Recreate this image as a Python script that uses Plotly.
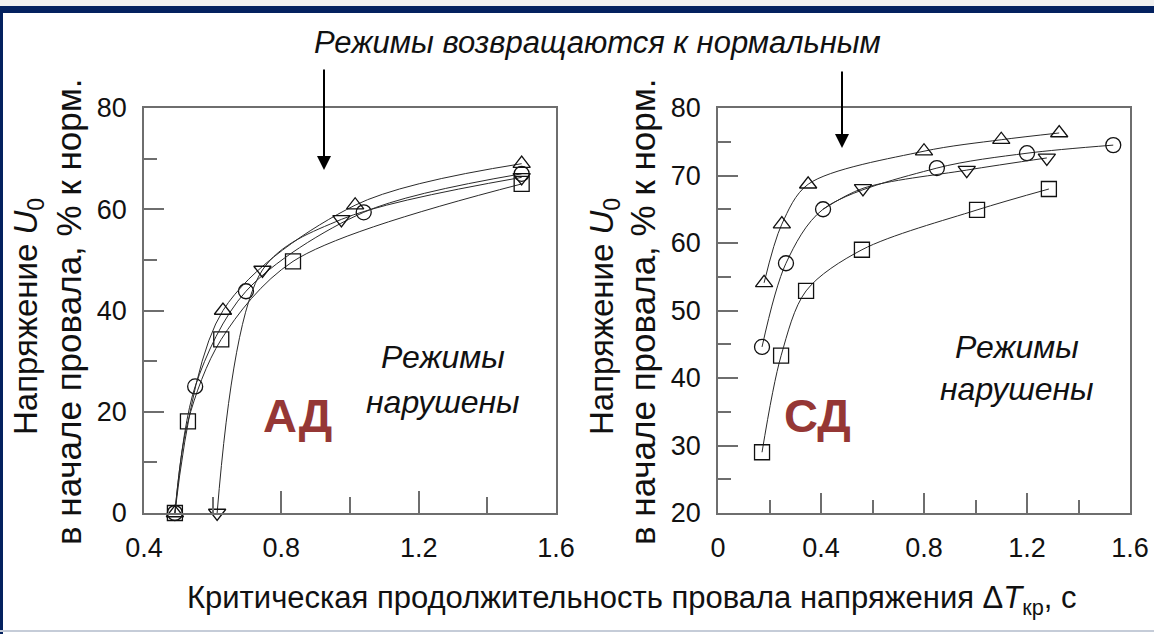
import plotly.graph_objects as go

# ---------------- data ----------------
# Left panel: АД
ad_sq_x = [0.49, 0.528, 0.625, 0.834, 1.50]
ad_sq_y = [0, 18.1, 34.3, 49.7, 65.0]
ad_ci_x = [0.49, 0.549, 0.697, 1.04, 1.50]
ad_ci_y = [0, 25.0, 43.8, 59.4, 67.0]
ad_tu_x = [0.49, 0.63, 1.015, 1.50]
ad_tu_y = [0, 40.0, 60.8, 69.0]
ad_td_x = [0.613, 0.745, 0.975, 1.50]
ad_td_y = [0, 48.0, 58.0, 66.3]

# Right panel: СД
sd_tu_x = [0.179, 0.248, 0.35, 0.80, 1.10, 1.325]
sd_tu_y = [54.1, 62.8, 68.7, 73.6, 75.3, 76.3]
sd_ci_x = [0.171, 0.264, 0.408, 0.85, 1.20, 1.535]
sd_ci_y = [44.6, 57.0, 65.0, 71.1, 73.3, 74.5]
sd_td_x = [0.408, 0.563, 0.966, 1.277]
sd_td_y = [65.0, 68.1, 70.8, 72.6]
sd_sq_x = [0.171, 0.245, 0.342, 0.559, 1.006, 1.285]
sd_sq_y = [29.0, 43.3, 52.9, 59.0, 64.9, 68.0]

ad_xticks = [0.4, 0.8, 1.2, 1.6]
ad_yticks = [0, 20, 40, 60, 80]
sd_xticks = [0, 0.4, 0.8, 1.2, 1.6]
sd_yticks = [20, 30, 40, 50, 60, 70, 80]

W, H = 1154, 634
FONT = "Liberation Sans, Arial, sans-serif"
LINE_C = "#2a2a2a"
FRAME_C = "#6e6e6e"

fig = go.Figure()

def add_series(x, y, symbol, xa, ya, marker_mask=None):
    fig.add_trace(go.Scatter(
        x=x, y=y, mode="lines", xaxis=xa, yaxis=ya,
        line=dict(color=LINE_C, width=1, shape="spline", smoothing=0.9),
        hoverinfo="skip", showlegend=False))
    mx = x if marker_mask is None else [v for v, m in zip(x, marker_mask) if m]
    my = y if marker_mask is None else [v for v, m in zip(y, marker_mask) if m]
    fig.add_trace(go.Scatter(
        x=mx, y=my, mode="markers", xaxis=xa, yaxis=ya, cliponaxis=False,
        marker=dict(symbol=symbol, size=15, color="#111",
                    line=dict(color="#111", width=1.3)),
        showlegend=False))

add_series(ad_sq_x, ad_sq_y, "square-open", "x", "y")
add_series(ad_ci_x, ad_ci_y, "circle-open", "x", "y")
add_series(ad_tu_x, ad_tu_y, "triangle-up-open", "x", "y")
add_series(ad_td_x, ad_td_y, "triangle-down-open", "x", "y")

add_series(sd_tu_x, sd_tu_y, "triangle-up-open", "x2", "y2")
add_series(sd_ci_x, sd_ci_y, "circle-open", "x2", "y2")
add_series(sd_td_x, sd_td_y, "triangle-down-open", "x2", "y2",
           marker_mask=[False, True, True, True])
add_series(sd_sq_x, sd_sq_y, "square-open", "x2", "y2")

def px_x(p):
    return p / W

def px_y(p):
    return 1 - p / H

axis_common = dict(showline=True, linecolor=FRAME_C, linewidth=1.5, mirror=True,
                   showgrid=False, zeroline=False, ticks="inside", automargin=False,
                   tickcolor=FRAME_C, tickwidth=1.5,
                   tickfont=dict(family=FONT, size=27, color="#111"))

fig.update_layout(
    width=W, height=H, margin=dict(l=0, r=0, t=0, b=0, pad=0),
    paper_bgcolor="white", plot_bgcolor="white",
    xaxis=dict(domain=[px_x(144), px_x(556)], range=[0.4, 1.6], tickvals=ad_xticks,
               ticktext=[f"{v:g}" for v in ad_xticks], ticklen=22, ticklabelstandoff=10,
               minor=dict(dtick=0.2, ticklen=16, ticks="inside", tickcolor=FRAME_C, tickwidth=1.5),
               anchor="y", **axis_common),
    yaxis=dict(domain=[px_y(513), px_y(108)], range=[0, 80], tickvals=ad_yticks,
               ticklen=20, ticklabelstandoff=10,
               minor=dict(dtick=10, ticklen=13, ticks="inside", tickcolor=FRAME_C, tickwidth=1.5),
               anchor="x", **axis_common),
    xaxis2=dict(domain=[px_x(718), px_x(1130)], range=[0, 1.6], tickvals=sd_xticks,
                ticktext=[f"{v:g}" for v in sd_xticks], ticklen=20, ticklabelstandoff=10,
                minor=dict(dtick=0.2, ticklen=13, ticks="inside", tickcolor=FRAME_C, tickwidth=1.5),
                anchor="y2", **axis_common),
    yaxis2=dict(domain=[px_y(513), px_y(108)], range=[20, 80], tickvals=sd_yticks,
                ticklen=20, ticklabelstandoff=10,
                minor=dict(dtick=5, ticklen=13, ticks="inside", tickcolor=FRAME_C, tickwidth=1.5),
                anchor="x2", **axis_common),
)

shapes = [
    # navy frame of the slide
    dict(type="rect", xref="paper", yref="paper", x0=0, x1=1, y0=px_y(13), y1=px_y(6),
         fillcolor="#03215f", line=dict(width=0), layer="above"),
    dict(type="rect", xref="paper", yref="paper", x0=0, x1=px_x(3), y0=0, y1=px_y(6),
         fillcolor="#03215f", line=dict(width=0), layer="above"),
    dict(type="rect", xref="paper", yref="paper", x0=0, x1=1, y0=px_y(6), y1=1,
         fillcolor="#f0f0f0", line=dict(width=0), layer="above"),
    dict(type="line", xref="paper", yref="paper", x0=0, x1=1, y0=px_y(631), y1=px_y(631),
         line=dict(color="#c5ccd8", width=2), layer="above"),
]
fig.update_layout(shapes=shapes)

annotations = []
# arrows
for ax_px, y_top, y_tip in [(324, 68, 170), (842, 70, 148)]:
    annotations.append(dict(xref="paper", yref="paper", x=px_x(ax_px), y=px_y(y_tip),
                            ax=0, ay=-(y_tip - y_top), axref="pixel", ayref="pixel",
                            showarrow=True, arrowhead=2, arrowsize=1.4, arrowwidth=2,
                            arrowcolor="#000", text=""))
# top label
annotations.append(dict(xref="paper", yref="paper", x=px_x(597), y=px_y(42),
                        text="<i>Режимы возвращаются к нормальным</i>", showarrow=False,
                        font=dict(family=FONT, size=31, color="#111"),
                        xanchor="center", yanchor="middle"))
# x title
annotations.append(dict(xref="paper", yref="paper", x=px_x(632), y=px_y(600),
                        text="Критическая продолжительность провала напряжения Δ<i>T</i><sub>кр</sub>, с",
                        showarrow=False, font=dict(family=FONT, size=31, color="#111"),
                        xanchor="center", yanchor="middle"))
# y titles
for x1, x2 in [(28, 68), (604, 642)]:
    annotations.append(dict(xref="paper", yref="paper", x=px_x(x1), y=px_y(317),
                            text="Напряжение <i>U</i><sub>0</sub>", textangle=-90,
                            showarrow=False, font=dict(family=FONT, size=33, color="#111"),
                            xanchor="center", yanchor="middle"))
    annotations.append(dict(xref="paper", yref="paper", x=px_x(x2), y=px_y(312),
                            text="в начале провала, % к норм.", textangle=-90,
                            showarrow=False, font=dict(family=FONT, size=35, color="#111"),
                            xanchor="center", yanchor="middle"))
# Режимы нарушены
for cx, cy1, cy2 in [(443, 357, 402), (1017, 347, 389)]:
    annotations.append(dict(xref="paper", yref="paper", x=px_x(cx), y=px_y(cy1),
                            text="<i>Режимы</i>", showarrow=False,
                            font=dict(family=FONT, size=32, color="#111"),
                            xanchor="center", yanchor="middle"))
    annotations.append(dict(xref="paper", yref="paper", x=px_x(cx), y=px_y(cy2),
                            text="<i>нарушены</i>", showarrow=False,
                            font=dict(family=FONT, size=32, color="#111"),
                            xanchor="center", yanchor="middle"))
# АД / СД
for cx, label in [(297, "АД"), (817, "СД")]:
    annotations.append(dict(xref="paper", yref="paper", x=px_x(cx), y=px_y(415),
                            text=f"<b>{label}</b>", showarrow=False,
                            font=dict(family=FONT, size=47, color="#953735"),
                            xanchor="center", yanchor="middle"))

fig.update_layout(annotations=annotations)

fig.write_html("out.html", config={"displayModeBar": False})
